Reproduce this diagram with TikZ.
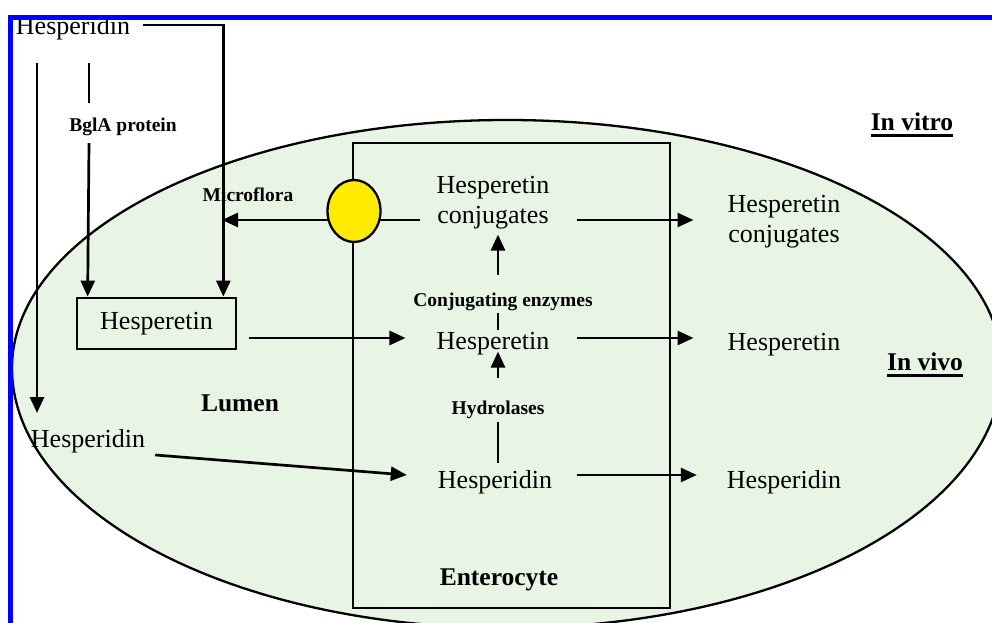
\documentclass[tikz,border=0pt]{standalone}
\usepackage{fontspec}
\setmainfont{Liberation Serif}
\usetikzlibrary{arrows.meta,shapes.geometric}
\definecolor{lumcol}{RGB}{232,245,228}
\definecolor{cellcol}{RGB}{255,235,0}
\newcommand\myul[1]{\setbox0\hbox{#1}\rlap{\rule[-6.5pt]{\wd0}{3pt}}\box0}
\begin{document}
\begin{tikzpicture}[x=1pt,y=1pt,
  txt/.style={inner sep=0pt, font=\fontsize{26}{30}\selectfont, align=center},
  lbl/.style={inner sep=0pt, font=\bfseries\fontsize{19.5}{22}\selectfont},
  big/.style={inner sep=0pt, font=\bfseries\fontsize{25.5}{30}\selectfont},
  ln/.style={line width=2.7pt},
  arr/.style={ln, -{Triangle[length=16pt,width=14pt]}},
]
\useasboundingbox (0,0) rectangle (992,623);
\clip (0,0) rectangle (992,623);
\fill[white] (0,0) rectangle (992,623);
% lumen ellipse
\draw[line width=2.3pt, fill=lumcol] (12,255)
  arc[start angle=180,end angle=0,x radius=495pt,y radius=248pt]
  arc[start angle=0,end angle=-180,x radius=495pt,y radius=260pt] -- cycle;
% enterocyte
\node[draw, line width=2.7pt, minimum width=317pt, minimum height=465pt, inner sep=0pt] (ent) at (511.5,247.5) {};
% text nodes
\node[txt] (hidTop) at (73,595) {Hesperidin};
\node[lbl] (bgl) at (123,496) {BglA protein};
\node[lbl] (micro) at (248,428) {Microflora};
\node[txt] (conjL) at (493,420) {Hesperetin\\conjugates};
\node[txt] (conjR) at (784,401) {Hesperetin\\conjugates};
\node[big] (vitro) at (912,498) {\myul{In vitro}};
\node[txt, draw, line width=2.7pt, minimum width=159pt, minimum height=51pt] (box) at (156.5,299.5) {Hesperetin};
\node[lbl] (conjE) at (503,321) {Conjugating enzymes};
\node[txt] (hetC) at (493,279) {Hesperetin};
\node[txt] (hetR) at (784,278) {Hesperetin};
\node[big] (vivo) at (925,258) {\myul{In vivo}};
\node[big] (lumen) at (240,220) {Lumen};
\node[lbl] (hydro) at (498,213) {Hydrolases};
\node[txt] (hidL) at (88,182) {Hesperidin};
\node[txt] (hidC) at (495,141) {Hesperidin};
\node[txt] (hidR) at (784,141) {Hesperidin};
\node[big] (entL) at (499,43) {Enterocyte};
% coordinates
\coordinate (la) at (37,560);
\coordinate (ba) at (89,560);
\coordinate (mf) at (222,403);
% connectors
\draw[arr] ([xshift=13pt,yshift=3pt]hidTop.east) -| ([xshift=-14pt]box.north east);
\draw[arr] (la) -- ([yshift=16pt]hidL.north -| la);
\draw[ln] (ba) -- ([yshift=15pt]bgl.north -| ba);
\draw[arr] ([yshift=-7pt]bgl.south -| ba) -- ([xshift=12pt]box.north west);
\draw[arr] ([xshift=-16pt]conjL.west |- mf) -- (mf);
\draw[arr, shorten <=27pt, shorten >=34pt] (conjL.east |- 0,403) -- (conjR.west |- 0,403);
\draw[arr, shorten <=12pt, shorten >=31pt] (box.east |- 0,285) -- (hetC.west |- 0,285);
\draw[arr, shorten <=27pt, shorten >=34pt] (hetC.east |- 0,285) -- (hetR.west |- 0,285);
\draw[arr] ([xshift=10pt,yshift=-14pt]hidL.east) -- ([xshift=-31pt,yshift=7pt]hidC.west);
\draw[arr, shorten <=25pt, shorten >=30pt] (hidC.east |- 0,148) -- (hidR.west |- 0,148);
\draw[ln, shorten <=7pt, shorten >=3pt] (hidC.north -| hydro) -- (hydro.south);
\draw[arr, shorten <=23pt] (hydro.north) -- ([yshift=4pt]hetC.south -| hydro.north);
\draw[ln, shorten <=2pt, shorten >=2pt] (hetC.north -| hydro) -- (conjE.south -| hydro);
\draw[arr, shorten <=18pt, shorten >=5pt] (conjE.north -| hydro) -- (conjL.south -| hydro);
% transporter
\node[ellipse, draw, line width=2.3pt, fill=cellcol, minimum width=53pt, minimum height=62pt, inner sep=0pt] (circ) at (354,412) {};
% frame
\draw[blue, line width=5pt] (10.5,0) -- (10.5,605.5) -- (992,605.5);
\end{tikzpicture}
\end{document}
